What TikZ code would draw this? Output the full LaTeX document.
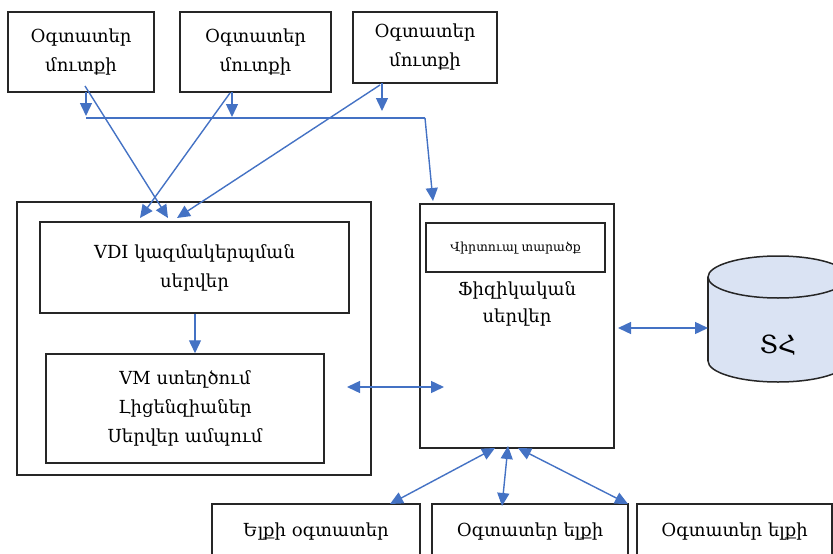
\documentclass[tikz,border=0pt]{standalone}
\usepackage{fontspec}
\setmainfont{DejaVu Serif}
\usetikzlibrary{arrows.meta}
\definecolor{ablue}{HTML}{4472C4}
\definecolor{dbfill}{HTML}{DAE3F3}
\begin{document}
\begin{tikzpicture}[x=1pt,y=-1pt,
  box/.style={draw=black!85,line width=1.5pt,rectangle,inner sep=0pt,align=center,font=\fontsize{18}{29}\selectfont},
  tip/.tip={Triangle[length=13pt,width=12pt]},
  conn/.style={draw=ablue,line width=1.4pt,-tip},
  dconn/.style={draw=ablue,line width=1.4pt,tip-tip},
  plain/.style={draw=ablue,line width=1.4pt}]
\useasboundingbox (0,0) rectangle (833,554);
\clip (0,0) rectangle (833,554);
% top boxes
\node[box,minimum width=146pt,minimum height=80pt] (u1) at (81,52) {Օգտատեր\\մուտքի};
\node[box,minimum width=151pt,minimum height=80pt] (u2) at (255.5,52) {Օգտատեր\\մուտքի};
\node[box,minimum width=144pt,minimum height=71pt] (u3) at (425,47.5) {Օգտատեր\\մուտքի};
% left group
\node[box,line width=1.8pt,minimum width=354pt,minimum height=273pt] (outer) at (194,338.5) {};
\node[box,minimum width=309pt,minimum height=91pt] (vdi) at (194.5,267.5) {VDI կազմակերպման\\սերվեր};
\node[box,minimum width=278pt,minimum height=109pt] (vm) at (185,408.5) {VM ստեղծում\\Լիցենզիաներ\\Սերվեր ամպում};
% physical server
\node[box,minimum width=194pt,minimum height=244pt] (phys) at (517,326) {};
\node[box,minimum width=179pt,minimum height=49pt,font=\fontsize{12.5}{14}\selectfont] (virt) at (515.5,247.5) {Վիրտուալ տարածք};
\node[align=center,inner sep=0pt,font=\fontsize{18}{27}\selectfont] (physlbl) at (517,304) {Ֆիզիկական\\սերվեր};
% storage cylinder
\path[fill=dbfill] (708,277) rectangle (848,361);
\path[fill=dbfill] (778,361) ellipse [x radius=70, y radius=21];
\draw[line width=1.5pt,black!85] (708,277) -- (708,361);
\draw[line width=1.5pt,black!85] (848,277) -- (848,361);
\draw[line width=1.5pt,black!85] (708,361) arc[start angle=180,end angle=0,x radius=70,y radius=21];
\draw[line width=1.5pt,black!85,fill=dbfill] (778,277) ellipse [x radius=70, y radius=21];
\node[inner sep=0pt,font=\fontsize{25}{28}\selectfont] (db) at (778,345) {ՏՀ};
% bottom boxes
\node[box,minimum width=208pt,minimum height=56pt] (o1) at (316,532) {Ելքի օգտատեր};
\node[box,minimum width=196pt,minimum height=56pt] (o2) at (530,532) {Օգտատեր ելքի};
\node[box,minimum width=195pt,minimum height=56pt] (o3) at (734.5,532) {Օգտատեր ելքի};
% connector points
\coordinate (u1b) at (86,92);
\coordinate (u1bt) at (86,116);
\coordinate (u2b) at (232,92);
\coordinate (u2bt) at (232,117);
\coordinate (u3b) at (382,83);
\coordinate (u3bt) at (382,111);
\coordinate (hl) at (86,118);
\coordinate (hr) at (425,118);
\coordinate (physt) at (433,201);
\coordinate (d1s) at (85,86);
\coordinate (d1t) at (168,218);
\coordinate (d2s) at (230,93);
\coordinate (d2t) at (140,218);
\coordinate (d3s) at (380,85);
\coordinate (d3t) at (177,218);
\coordinate (vmr) at (347,387);
\coordinate (physl) at (444,387);
\coordinate (physr) at (618,328);
\coordinate (dbw) at (708,328);
\coordinate (pb1) at (495,448);
\coordinate (pb2) at (508,446);
\coordinate (pb3) at (518,448);
\coordinate (o1t) at (390,504);
\coordinate (o2t) at (502,506);
\coordinate (o3t) at (628,504);
% connectors
\draw[conn] (u1b) -- (u1bt);
\draw[conn] (u2b) -- (u2bt);
\draw[conn] (u3b) -- (u3bt);
\draw[plain] (hl) -- (hr);
\draw[conn] (hr) -- (physt);
\draw[conn] (d1s) -- (d1t);
\draw[conn] (d2s) -- (d2t);
\draw[conn] (d3s) -- (d3t);
\draw[conn] (vdi.south -| 195,0) -- (vm.north -| 195,0);
\draw[dconn] (vmr) -- (physl);
\draw[dconn] (physr) -- (dbw);
\draw[dconn] (pb1) -- (o1t);
\draw[dconn] (pb2) -- (o2t);
\draw[dconn] (pb3) -- (o3t);
\end{tikzpicture}
\end{document}
